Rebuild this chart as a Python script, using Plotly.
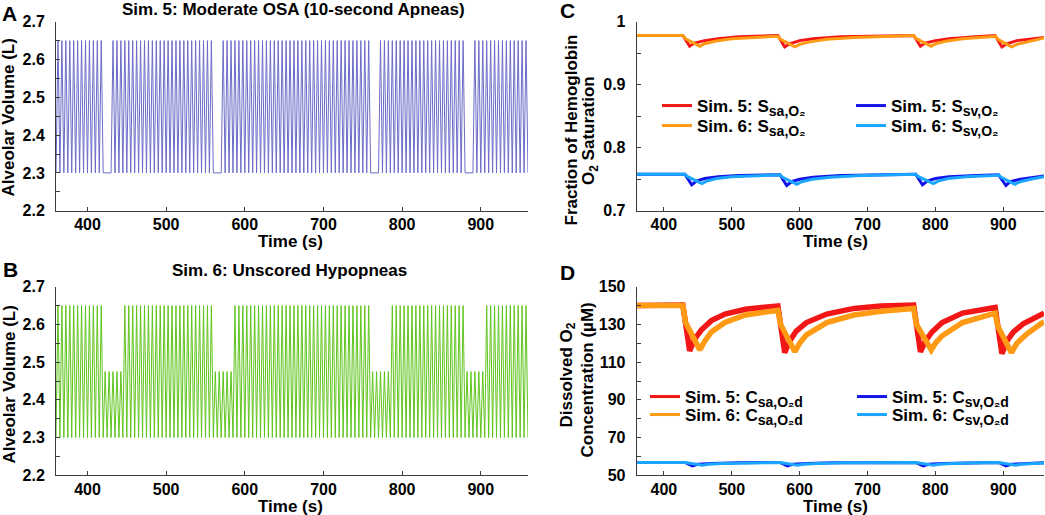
import numpy as np
import plotly.graph_objects as go

W, H = 1045, 515

# ---- panels A / B : alveolar volume, breathing segments (s) and peak volume (L)
a_start = [360, 430, 570, 770, 890]
a_end = [420, 560, 760, 880, 960]
a_peak = [2.65, 2.65, 2.65, 2.65, 2.65]

b_start = [360, 420, 445, 560, 585, 760, 785, 880, 905]
b_end = [420, 445, 560, 585, 760, 785, 880, 905, 960]
b_peak = [2.65, 2.475, 2.65, 2.475, 2.65, 2.475, 2.65, 2.475, 2.65]

trough = 2.3
breath_period = 5.0

# ---- panel C : hemoglobin O2 saturation
c_sa5_t = [360, 428, 438, 445, 460, 480, 510, 568, 578, 585, 600, 620, 660, 768, 778, 785, 800, 820,
           860, 888, 898, 905, 920, 940, 960]
c_sa5_v = [0.978, 0.978, 0.961, 0.966, 0.970, 0.973, 0.976, 0.978, 0.960, 0.965, 0.970, 0.973, 0.976,
           0.978, 0.961, 0.966, 0.970, 0.973, 0.976, 0.978, 0.960, 0.965, 0.970, 0.972, 0.975]
c_sa6_t = [360, 428, 432, 453, 460, 475, 500, 540, 568, 572, 593, 600, 615, 640, 680, 768, 772, 794,
           800, 815, 840, 880, 888, 892, 912, 920, 935, 960]
c_sa6_v = [0.978, 0.978, 0.973, 0.961, 0.965, 0.969, 0.973, 0.976, 0.977, 0.972, 0.960, 0.964, 0.968,
           0.972, 0.975, 0.978, 0.973, 0.961, 0.965, 0.969, 0.973, 0.976, 0.977, 0.972, 0.960, 0.964,
           0.968, 0.974]
c_sv5_t = [360, 431, 441, 448, 460, 480, 510, 571, 581, 588, 600, 620, 660, 771, 781, 788, 800, 820,
           860, 893, 904, 910, 925, 945, 960]
c_sv5_v = [0.758, 0.758, 0.741, 0.747, 0.751, 0.754, 0.756, 0.757, 0.740, 0.746, 0.750, 0.753, 0.756,
           0.758, 0.741, 0.747, 0.751, 0.754, 0.756, 0.757, 0.740, 0.746, 0.750, 0.753, 0.755]
c_sv6_t = [360, 431, 435, 456, 463, 478, 500, 540, 571, 575, 596, 603, 618, 645, 690, 771, 775, 797,
           804, 819, 845, 885, 893, 897, 917, 925, 940, 960]
c_sv6_v = [0.758, 0.758, 0.754, 0.743, 0.747, 0.751, 0.754, 0.756, 0.757, 0.753, 0.742, 0.746, 0.750,
           0.753, 0.756, 0.758, 0.754, 0.743, 0.747, 0.751, 0.754, 0.756, 0.757, 0.753, 0.742, 0.746,
           0.750, 0.754]

# ---- panel D : dissolved O2 concentration (uM)
d_sa5_t = [360, 428, 438, 445, 455, 470, 490, 520, 568, 578, 585, 595, 610, 640, 680, 720, 768, 778,
           785, 795, 810, 840, 888, 898, 905, 915, 930, 960]
d_sa5_v = [140, 140.3, 116, 122, 127, 132, 135.5, 138, 139.8, 115, 121, 126.5, 131, 135.5, 138.5,
           139.8, 140.3, 115.5, 121, 126, 131, 136, 139, 114.5, 121, 126, 130.5, 136]
d_sa6_t = [360, 428, 432, 453, 460, 470, 490, 520, 568, 572, 593, 600, 610, 640, 680, 720, 768, 772,
           794, 800, 810, 840, 888, 892, 912, 920, 935, 960]
d_sa6_v = [140, 140, 131, 116.5, 121, 126, 131, 135, 137.5, 130, 115.5, 120, 124.5, 131, 135, 137,
           138.5, 130, 116.5, 120, 124, 131, 136, 129, 115, 120, 125, 131.5]
d_sv5_t = [360, 431, 442, 450, 470, 510, 571, 582, 590, 610, 650, 771, 782, 790, 810, 850, 893, 904,
           912, 935, 960]
d_sv5_v = [56.8, 56.8, 55.0, 55.8, 56.3, 56.7, 56.8, 55.0, 55.8, 56.3, 56.7, 56.8, 55.0, 55.8, 56.3,
           56.7, 56.8, 55.0, 55.8, 56.3, 56.6]
d_sv6_t = [360, 431, 457, 465, 485, 520, 571, 597, 605, 625, 665, 771, 797, 805, 825, 865, 893, 918,
           926, 945, 960]
d_sv6_v = [56.8, 56.8, 55.3, 55.8, 56.3, 56.6, 56.8, 55.3, 55.8, 56.3, 56.6, 56.8, 55.3, 55.8, 56.3,
           56.6, 56.8, 55.3, 55.8, 56.2, 56.5]

x_ticks = [400, 500, 600, 700, 800, 900]

RED, ORANGE, BLUE, LBLUE = '#f21616', '#ff9a14', '#1414e6', '#1aa6ff'
AXC = '#3c3c3c'
FONT = 'Liberation Sans'


def breaths(starts, ends, peaks):
    t, v = [], []
    for s, e, p in zip(starts, ends, peaks):
        n = int(round((e - s) / breath_period))
        for k in range(n):
            t0 = s + k * breath_period
            t += [t0, t0 + breath_period / 2]
            v += [trough, p]
        t.append(e)
        v.append(trough)
    return t, v


def px(x):
    return x / W


def py(y):
    return 1 - y / H


def sub(s):
    return "<sub><span style='font-size:14px'>" + s + "</span></sub>"


fig = go.Figure()

ta, va = breaths(a_start, a_end, a_peak)
tb, vb = breaths(b_start, b_end, b_peak)
fig.add_trace(go.Scatter(x=ta, y=va, mode='lines', line=dict(color='#6c6cc8', width=1),
                         showlegend=False, xaxis='x', yaxis='y'))
fig.add_trace(go.Scatter(x=tb, y=vb, mode='lines', line=dict(color='#60c41e', width=1),
                         showlegend=False, xaxis='x2', yaxis='y2'))

# C
for t, v, col in [(c_sa5_t, c_sa5_v, RED), (c_sa6_t, c_sa6_v, ORANGE),
                  (c_sv5_t, c_sv5_v, BLUE), (c_sv6_t, c_sv6_v, LBLUE)]:
    fig.add_trace(go.Scatter(x=t, y=v, mode='lines', line=dict(color=col, width=3),
                             showlegend=False, xaxis='x3', yaxis='y3'))
# D
for t, v, col, w in [(d_sa5_t, d_sa5_v, RED, 5.5), (d_sa6_t, d_sa6_v, ORANGE, 5.5),
                     (d_sv5_t, d_sv5_v, BLUE, 3), (d_sv6_t, d_sv6_v, LBLUE, 3)]:
    fig.add_trace(go.Scatter(x=t, y=v, mode='lines', line=dict(color=col, width=w),
                             showlegend=False, xaxis='x4', yaxis='y4'))

# legend entries, one legend per row: (legend, axes, colour, label, left x px, row y px)
leg_items = [
    ('legend', 'x3', 'y3', RED, 'Sim. 5: S' + sub('sa,O₂'), 657, 106),
    ('legend2', 'x3', 'y3', ORANGE, 'Sim. 6: S' + sub('sa,O₂'), 657, 126),
    ('legend3', 'x3', 'y3', BLUE, 'Sim. 5: S' + sub('sv,O₂'), 851, 106),
    ('legend4', 'x3', 'y3', LBLUE, 'Sim. 6: S' + sub('sv,O₂'), 851, 126),
    ('legend5', 'x4', 'y4', RED, 'Sim. 5: C' + sub('sa,O₂d'), 645, 397),
    ('legend6', 'x4', 'y4', ORANGE, 'Sim. 6: C' + sub('sa,O₂d'), 645, 415),
    ('legend7', 'x4', 'y4', BLUE, 'Sim. 5: C' + sub('sv,O₂d'), 852, 397),
    ('legend8', 'x4', 'y4', LBLUE, 'Sim. 6: C' + sub('sv,O₂d'), 852, 415),
]
legends = {}
for lg, xa, ya, col, name, lx, ly in leg_items:
    fig.add_trace(go.Scatter(x=[None], y=[None], mode='lines', line=dict(color=col, width=3),
                             name=name, legend=lg, xaxis=xa, yaxis=ya))
    legends[lg] = dict(x=px(lx), y=py(ly), xanchor='left', yanchor='middle',
                       bgcolor='rgba(0,0,0,0)', font=dict(size=17, color='black'),
                       tracegroupgap=0, itemwidth=30)


def xax(dom, anchor):
    return dict(domain=dom, range=[360, 960], tickvals=x_ticks, showline=True, linecolor=AXC,
                linewidth=1, ticks='inside', ticklen=4, tickcolor=AXC, showgrid=False,
                zeroline=False, ticklabelstandoff=-1, automargin=False, anchor=anchor)


def yax(dom, rng, dtick, mtick, anchor):
    return dict(domain=dom, range=rng, dtick=dtick, tick0=rng[0], showline=True, linecolor=AXC,
                linewidth=1, ticks='inside', ticklen=4, tickcolor=AXC, showgrid=False,
                zeroline=False, anchor=anchor, ticklabelstandoff=7, automargin=False,
                minor=dict(dtick=mtick, ticks='inside', ticklen=4, tickcolor=AXC, showgrid=False))


left_dom = [px(56), px(528)]
right_dom = [px(636.7), px(1044)]
top_dom = [py(210.7), py(21.7)]
bot_dom = [py(475.3), py(286.7)]

annotations = []


def note(x, y, text, size=17, angle=0):
    annotations.append(dict(x=px(x), y=py(y), xref='paper', yref='paper', text=text, showarrow=False,
                            xanchor='center', yanchor='middle', textangle=angle,
                            font=dict(size=size, color='black')))


note(293, 9, 'Sim. 5: Moderate OSA (10-second Apneas)')
note(289, 270, 'Sim. 6: Unscored Hypopneas')
note(9, 13.5, 'A', 21)
note(10, 269, 'B', 21)
note(567.5, 10.5, 'C', 21)
note(567.5, 272, 'D', 21)
for xc in (290, 835):
    note(xc, 241, 'Time (s)')
    note(xc, 506, 'Time (s)')
note(8.5, 118, 'Alveolar Volume (L)', angle=-90)
note(8.5, 385, 'Alveolar Volume (L)', angle=-90)
note(570.5, 130, 'Fraction of Hemoglobin', angle=-90)
note(590, 131, 'O<sub>2</sub> Saturation', angle=-90)
note(567.5, 375, 'Dissolved O<sub>2</sub>', angle=-90)
note(586.5, 380, 'Concentration (µM)', angle=-90)

fig.update_layout(
    width=W, height=H, autosize=False,
    margin=dict(l=0, r=0, t=0, b=0),
    paper_bgcolor='white', plot_bgcolor='white',
    font=dict(family=FONT, size=16, color='black', weight='bold'),
    xaxis=xax(left_dom, 'y'),
    yaxis=yax(top_dom, [2.2, 2.7], 0.1, 0.05, 'x'),
    xaxis2=xax(left_dom, 'y2'),
    yaxis2=yax(bot_dom, [2.2, 2.7], 0.1, 0.05, 'x2'),
    xaxis3=xax(right_dom, 'y3'),
    yaxis3=yax(top_dom, [0.7, 1.0], 0.1, 0.05, 'x3'),
    xaxis4=xax(right_dom, 'y4'),
    yaxis4=yax(bot_dom, [50, 150], 20, 10, 'x4'),
    annotations=annotations,
    **legends,
)

# page body has a default 8px margin; drop it so the figure fills the window
fig.write_html("out.html", config={'displayModeBar': False},
               post_script="document.body.style.margin='0';")
